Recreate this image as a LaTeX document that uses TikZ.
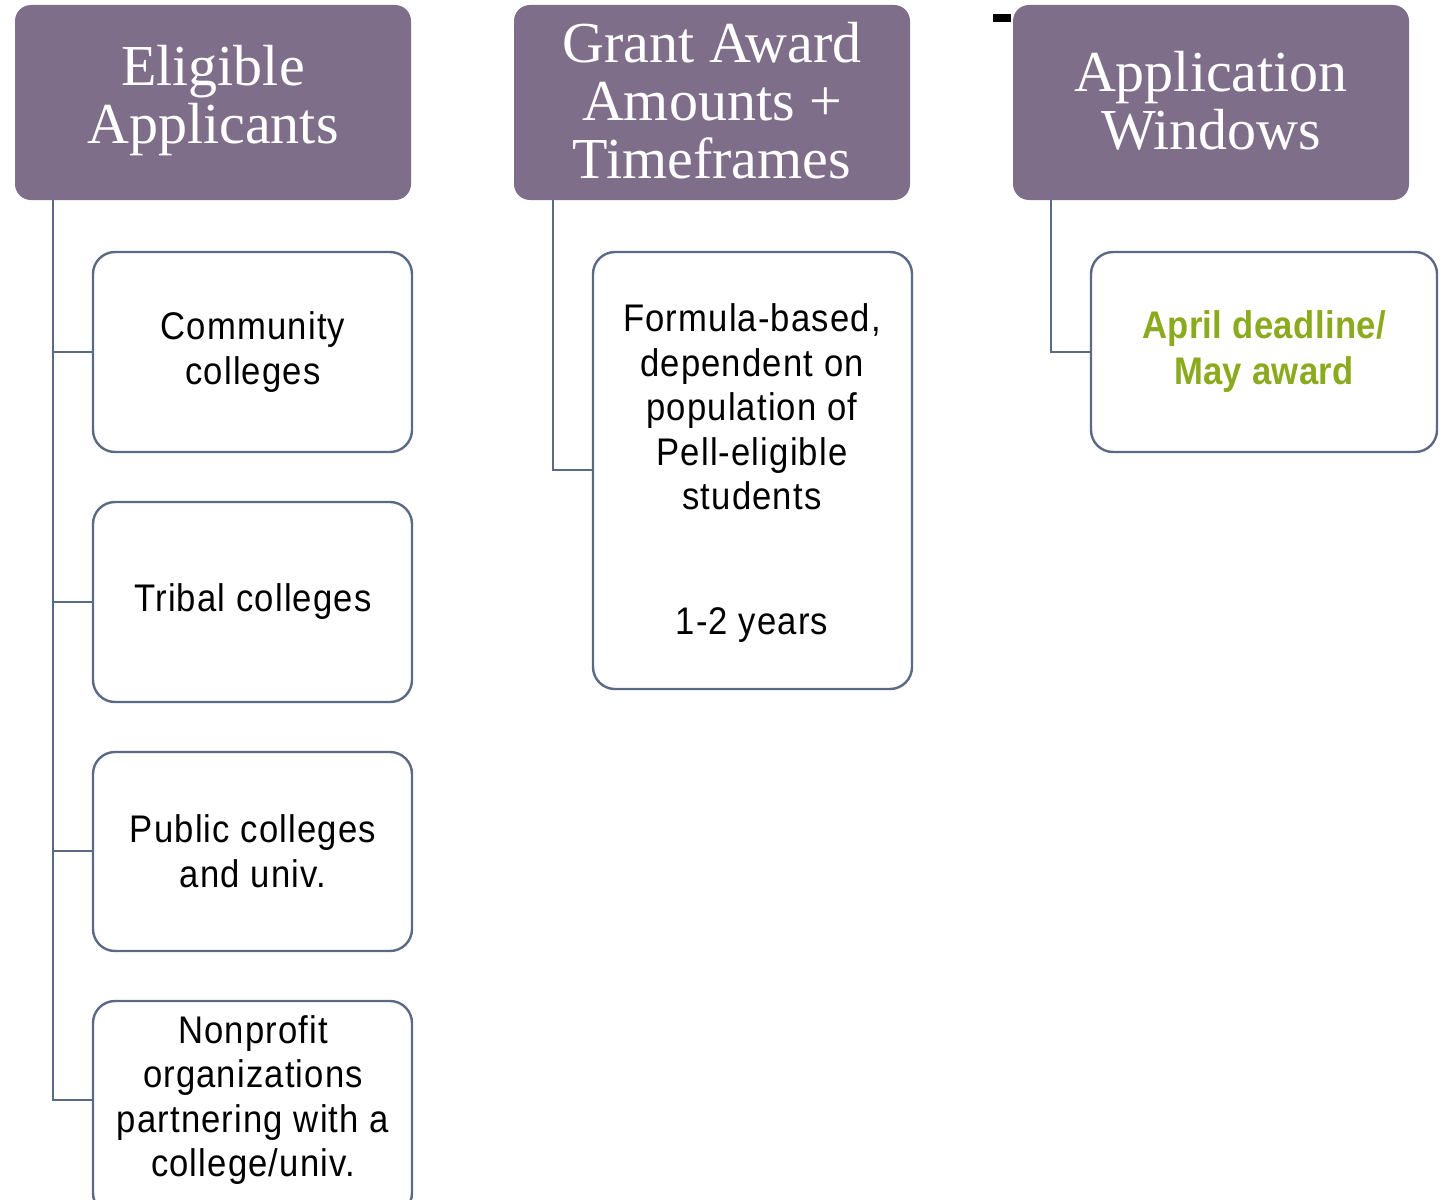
\documentclass[tikz,border=0pt]{standalone}
\usepackage{fontspec}
\setmainfont{Liberation Serif}
\newfontfamily\bodyfont[FakeStretch=0.9,LetterSpace=3]{Liberation Sans}
\newfontfamily\greenfont[FakeStretch=0.9,LetterSpace=1]{Liberation Sans Bold}
\definecolor{hdr}{HTML}{7F6E8A}
\definecolor{bord}{HTML}{5A6A85}
\definecolor{grn}{HTML}{8BAA1E}
\begin{document}
\begin{tikzpicture}[x=1pt,y=-1pt,
  hdrbox/.style={fill=hdr,draw=none,rounded corners=16pt},
  kidbox/.style={draw=bord,line width=2.4pt,fill=white,rounded corners=22pt},
  conn/.style={draw=bord,line width=2pt},
  hdrtext/.style={text=white,font=\fontsize{58}{58}\selectfont,align=center},
  kidtext/.style={font=\bodyfont\fontsize{38.5}{44.5}\selectfont,align=center}]
\useasboundingbox (0,0) rectangle (1447,1199);
\clip (0,0) rectangle (1447,1199);
% headers
\fill[hdrbox] (15,5) rectangle (411,200);
\fill[hdrbox] (514,5) rectangle (910,200);
\fill[hdrbox] (1013,5) rectangle (1409,200);
\node[hdrtext] (h1) at (213,101) {Eligible\\Applicants};
\node[hdrtext] (h2) at (712,101) {Grant Award\\Amounts +\\Timeframes};
\node[hdrtext] (h3) at (1211,101) {Application\\Windows};
\fill[black] (993,14) rectangle (1011,22);
% connectors
\coordinate (l1top) at (53,200);
\coordinate (l2top) at (553,200);
\coordinate (l3top) at (1051,200);
\draw[conn] (l1top) -- (53,1100) -- (93,1100);
\draw[conn] (53,352) -- (93,352);
\draw[conn] (53,602) -- (93,602);
\draw[conn] (53,851) -- (93,851);
\draw[conn] (l2top) |- (593,470);
\draw[conn] (l3top) |- (1091,352);
% child boxes
\draw[kidbox] (93,252) rectangle (412,452);
\draw[kidbox] (93,502) rectangle (412,702);
\draw[kidbox] (93,752) rectangle (412,951);
\draw[kidbox] (93,1001) rectangle (412,1215);
\draw[kidbox] (593,252) rectangle (912,689);
\draw[kidbox] (1091,252) rectangle (1437,452);
\node[kidtext] (k1) at (253,352) {Community\\colleges};
\node[kidtext] (k2) at (253,602) {Tribal colleges};
\node[kidtext] (k3) at (253,851) {Public colleges\\and univ.};
\node[kidtext] (k4) at (253,1100) {Nonprofit\\organizations\\partnering with a\\college/univ.};
\node[kidtext] (m1) at (752,473) {Formula-based,\\dependent on\\population of\\Pell-eligible\\students\\[80pt]1-2 years};
\node[kidtext,text=grn,font=\greenfont\fontsize{38.5}{46}\selectfont] (r1) at (1264,352) {April deadline/\\May award};
\end{tikzpicture}
\end{document}
